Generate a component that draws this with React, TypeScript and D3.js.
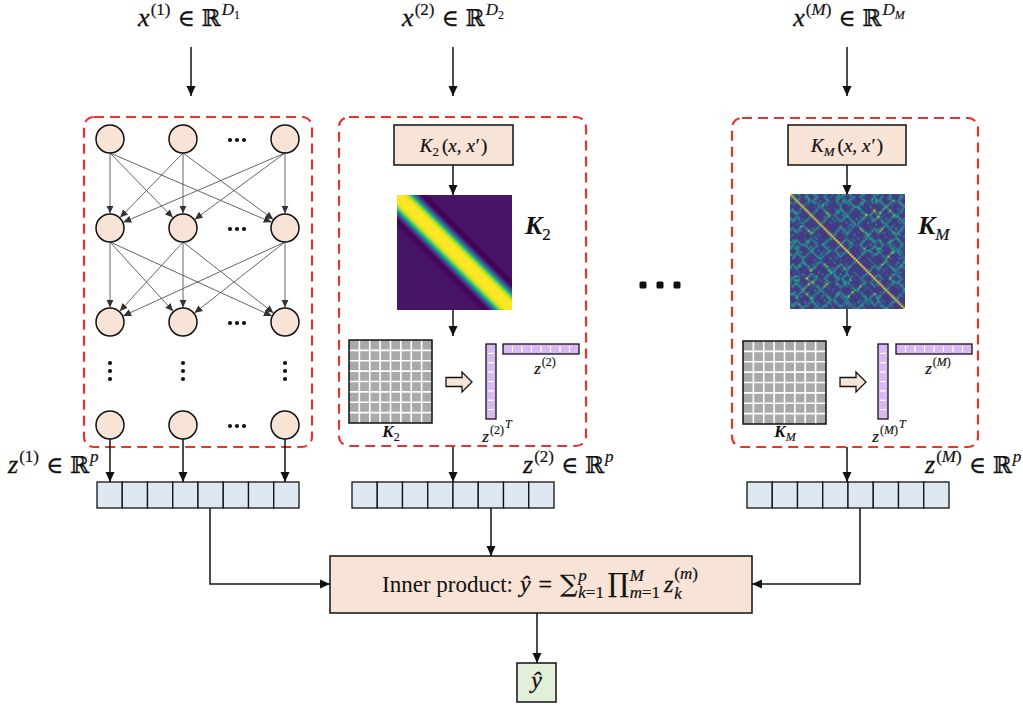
import React, { useEffect, useRef } from 'react';
import * as d3 from 'd3';

const W = 1023;
const H = 705;

// ---- content / values ----
const VIEW_IDS = ['1', '2', 'M'];
const P_CELLS = [1, 2, 3, 4, 5, 6, 7, 8];
const GRID_CELLS = [1, 2, 3, 4, 5, 6, 7, 8];
const BAR_SEGMENTS = [1, 2, 3, 4, 5, 6, 7, 8];
const NET_COLUMNS = ['first', 'second', 'last'];
const NET_LAYERS = ['l1', 'l2', 'l3', 'lOut'];
const K2_SHAPE = { width: 0.15, power: 4, dipDepth: 0.06, dipAt: 0.22, dipWidth: 0.05 };
const KM_LENGTHSCALES = [0.03, 0.04];
const KM_WEIGHTS = [0.55, 0.45];
const KM_INPUTS_A = [
  0.52, 0.58, 0.49, 0.44, 0.51, 0.63, 0.69, 0.61, 0.55, 0.47, 0.38, 0.42, 0.5, 0.57, 0.66,
  0.72, 0.64, 0.56, 0.48, 0.41, 0.35, 0.29, 0.36, 0.45, 0.53, 0.6, 0.54, 0.46, 0.39, 0.43,
  0.52, 0.62, 0.7, 0.76, 0.68, 0.59, 0.51, 0.44, 0.37, 0.31, 0.38, 0.47, 0.55, 0.49, 0.41,
  0.46, 0.57, 0.65, 0.71, 0.63, 0.53, 0.45, 0.4, 0.34, 0.42, 0.5, 0.58, 0.67,
];
const KM_INPUTS_B = [
  0.31, 0.07, 0.66, 0.92, 0.18, 0.54, 0.43, 0.79, 0.02, 0.61, 0.87, 0.25, 0.38, 0.71, 0.14,
  0.96, 0.49, 0.23, 0.58, 0.84, 0.11, 0.35, 0.74, 0.05, 0.63, 0.47, 0.89, 0.29, 0.16, 0.52,
  0.98, 0.68, 0.09, 0.41, 0.77, 0.21, 0.57, 0.33, 0.86, 0.13, 0.45, 0.72, 0.01, 0.94, 0.27,
  0.6, 0.19, 0.81, 0.39, 0.65, 0.04, 0.5, 0.91, 0.24, 0.76, 0.12, 0.55, 0.36,
];

const MATH = "'Liberation Serif', 'DejaVu Serif', serif";
const RED = '#e8352b';
const PEACH = '#f8e4d6';
const BLUE = '#dee8f3';
const GREEN = '#e2efd9';
const PURPLE = '#d9b9f4';
const INK = '#111';

type Piece = {
  t?: string;
  parts?: [string, boolean][];
  size: number;
  it?: boolean;
  b?: boolean;
  dy?: number;
  gap?: number;
  stack?: boolean;
  family?: string;
  plain?: boolean;
};

function drawMath(parent: any, pieces: Piece[], x: number, y: number, anchor: string) {
  const g = parent.append('g');
  let cursor = 0;
  let lastStart = 0;
  let lastEnd = 0;
  for (const p of pieces) {
    const start = p.stack ? lastStart : cursor + (p.gap || 0);
    const t = g
      .append('text')
      .attr('x', start)
      .attr('y', p.dy || 0)
      .attr('font-family', p.family || MATH)
      .attr('font-size', p.size)
      .attr('font-style', p.it ? 'italic' : 'normal')
      .attr('font-weight', p.b ? 'bold' : 'normal')
      .attr('fill', INK)
      .attr('stroke', p.plain || p.b ? null : INK)
      .attr('stroke-width', p.plain || p.b ? null : Math.min(0.3, p.size * 0.013));
    if (p.parts) {
      p.parts.forEach(([s, it]) => t.append('tspan').attr('font-style', it ? 'italic' : 'normal').text(s));
    } else {
      t.text(p.t || '');
    }
    const w = (t.node() as SVGTextElement).getComputedTextLength();
    const end = start + w;
    if (p.stack) {
      lastEnd = Math.max(lastEnd, end);
    } else {
      lastStart = start;
      lastEnd = end;
    }
    cursor = lastEnd;
  }
  const off = anchor === 'middle' ? cursor / 2 : anchor === 'end' ? cursor : 0;
  g.attr('transform', `translate(${x - off},${y})`);
}

function heatmapURL(n: number, f: (i: number, j: number) => string) {
  const c = document.createElement('canvas');
  c.width = n;
  c.height = n;
  const ctx = c.getContext('2d')!;
  const img = ctx.createImageData(n, n);
  for (let i = 0; i < n; i++) {
    for (let j = 0; j < n; j++) {
      const col = d3.rgb(f(i, j));
      const o = (i * n + j) * 4;
      img.data[o] = col.r;
      img.data[o + 1] = col.g;
      img.data[o + 2] = col.b;
      img.data[o + 3] = 255;
    }
  }
  ctx.putImageData(img, 0, 0);
  return c.toDataURL();
}

export default function App() {
  const ref = useRef<SVGSVGElement>(null);

  useEffect(() => {
    const svg = d3.select(ref.current);
    svg.selectAll('*').remove();

    const defs = svg.append('defs');
    defs
      .append('marker')
      .attr('id', 'arr')
      .attr('viewBox', '0 0 10 10')
      .attr('refX', 10)
      .attr('refY', 5)
      .attr('markerWidth', 10)
      .attr('markerHeight', 10)
      .attr('markerUnits', 'userSpaceOnUse')
      .attr('orient', 'auto')
      .append('path')
      .attr('d', 'M0,0.5 L10,5 L0,9.5 Z')
      .attr('fill', INK);
    defs
      .append('marker')
      .attr('id', 'arrS')
      .attr('viewBox', '0 0 10 10')
      .attr('refX', 10)
      .attr('refY', 5)
      .attr('markerWidth', 8)
      .attr('markerHeight', 8)
      .attr('markerUnits', 'userSpaceOnUse')
      .attr('orient', 'auto')
      .append('path')
      .attr('d', 'M0,0.5 L10,5 L0,9.5 Z')
      .attr('fill', '#333');

    const arrow = (x1: number, y1: number, x2: number, y2: number) =>
      svg
        .append('line')
        .attr('x1', x1)
        .attr('y1', y1)
        .attr('x2', x2)
        .attr('y2', y2)
        .attr('stroke', INK)
        .attr('stroke-width', 1.5)
        .attr('marker-end', 'url(#arr)');

    const supId = (id: string, size: number, dy: number): Piece[] =>
      id === 'M'
        ? [
            { t: '(', size, dy, gap: 1 },
            { t: 'M', size, it: true, dy },
            { t: ')', size, dy },
          ]
        : [{ t: `(${id})`, size, dy, gap: 1 }];

    // ---- top input labels and arrows ----
    const topCenters = [189, 453, 849];
    const arrowXs = [191, 453, 847];
    VIEW_IDS.forEach((id, i) => {
      drawMath(
        svg,
        [
          { t: 'x', size: 26, it: true },
          ...supId(id, 17, -11),
          { t: '∈', size: 23, gap: 7 },
          { t: 'ℝ', size: 23, gap: 7, family: "'DejaVu Serif', serif" },
          { t: 'D', size: 17, it: true, dy: -11, gap: 1 },
          { t: id, size: 12, it: id === 'M', dy: -7 },
        ],
        topCenters[i],
        26,
        'middle'
      );
      arrow(arrowXs[i], 47, arrowXs[i], 96);
    });

    // ---- dashed view boxes ----
    const boxes = [
      { x0: 84, y0: 117, x1: 312, y1: 447 },
      { x0: 339, y0: 117, x1: 586, y1: 446 },
      { x0: 732, y0: 118, x1: 978, y1: 447 },
    ];
    boxes.forEach((b) =>
      svg
        .append('rect')
        .attr('x', b.x0)
        .attr('y', b.y0)
        .attr('width', b.x1 - b.x0)
        .attr('height', b.y1 - b.y0)
        .attr('rx', 10)
        .attr('fill', 'none')
        .attr('stroke', RED)
        .attr('stroke-width', 2.2)
        .attr('stroke-dasharray', '10 6')
    );

    // ---- neural network (view 1) ----
    const colX = d3.scaleOrdinal<string, number>().domain(NET_COLUMNS).range([110, 183, 285]);
    const layerY = d3.scaleOrdinal<string, number>().domain(NET_LAYERS).range([139, 228, 322, 425]);
    const R = 14;
    const edgesG = svg.append('g');
    for (let l = 0; l < 2; l++) {
      const ys = layerY(NET_LAYERS[l]);
      const yt = layerY(NET_LAYERS[l + 1]);
      NET_COLUMNS.forEach((cs) => {
        NET_COLUMNS.forEach((ct) => {
          const sx = colX(cs);
          const sy = ys + R;
          const tx = colX(ct);
          const dx = tx - sx;
          const dyy = yt - sy;
          const len = Math.hypot(dx, dyy);
          edgesG
            .append('line')
            .attr('x1', sx)
            .attr('y1', sy)
            .attr('x2', tx - (dx / len) * (R + 0.5))
            .attr('y2', yt - (dyy / len) * (R + 0.5))
            .attr('stroke', '#555')
            .attr('stroke-width', 0.9)
            .attr('marker-end', 'url(#arrS)');
        });
      });
    }
    NET_LAYERS.forEach((l) => {
      NET_COLUMNS.forEach((c) => {
        svg
          .append('circle')
          .attr('cx', colX(c))
          .attr('cy', layerY(l))
          .attr('r', R)
          .attr('fill', '#f8e4d6')
          .attr('stroke', INK)
          .attr('stroke-width', 1.5);
      });
      [-7, 0, 7].forEach((o) =>
        svg.append('circle').attr('cx', 237 + o).attr('cy', layerY(l) + 1).attr('r', 2.1).attr('fill', INK)
      );
    });
    NET_COLUMNS.forEach((c) =>
      [-8, 0, 8].forEach((o) =>
        svg.append('circle').attr('cx', colX(c)).attr('cy', 371 + o).attr('r', 2.1).attr('fill', INK)
      )
    );
    NET_COLUMNS.forEach((c) => arrow(colX(c), layerY('lOut') + R, colX(c), 482));

    // ---- kernel views ----
    const k2Color = d3.scaleSequential(d3.interpolateViridis).domain([-0.06, 1]);
    const k2 = (d: number) =>
      Math.exp(-Math.pow(d / K2_SHAPE.width, K2_SHAPE.power)) -
      K2_SHAPE.dipDepth * Math.exp(-Math.pow((d - K2_SHAPE.dipAt) / K2_SHAPE.dipWidth, 2));
    const N2 = 115;
    const k2URL = heatmapURL(N2, (i, j) => k2Color(k2(Math.abs(i - j) / (N2 - 1))));
    const kmColor = d3.scaleSequential(d3.interpolateViridis).domain([-0.2, 1]);
    const rbf = (a: number, b: number, l: number) => Math.exp(-((a - b) * (a - b)) / (2 * l * l));
    const kmURL = heatmapURL(KM_INPUTS_A.length, (i, j) =>
      kmColor(
        KM_WEIGHTS[0] * rbf(KM_INPUTS_A[i], KM_INPUTS_A[j], KM_LENGTHSCALES[0]) +
          KM_WEIGHTS[1] * rbf(KM_INPUTS_B[i], KM_INPUTS_B[j], KM_LENGTHSCALES[1])
      )
    );

    const kViews = [
      { id: '2', cx: 453, kbox: [394, 513], heat: [397, 195], grid: [349, 340], barV: 486, barH: 503, lab: 525, url: k2URL },
      { id: 'M', cx: 847, kbox: [788, 906], heat: [790, 194], grid: [743, 341], barV: 878, barH: 896, lab: 918, url: kmURL },
    ];
    const sub = (id: string, size: number, dy: number): Piece => ({ t: id, size, it: id === 'M', dy } as Piece);

    kViews.forEach((v) => {
      svg
        .append('rect')
        .attr('x', v.kbox[0])
        .attr('y', 125)
        .attr('width', v.kbox[1] - v.kbox[0])
        .attr('height', 40)
        .attr('fill', PEACH)
        .attr('stroke', INK)
        .attr('stroke-width', 1.5);
      drawMath(
        svg,
        [
          { t: 'K', size: 19, it: true },
          sub(v.id, 13, 4),
          { t: '(', size: 19, gap: 3 },
          { t: 'x', size: 19, it: true },
          { t: ',', size: 19 },
          { t: 'x', size: 19, it: true, gap: 5 },
          { t: '′', size: 19, gap: 1 },
          { t: ')', size: 19, gap: 1 },
        ],
        (v.kbox[0] + v.kbox[1]) / 2,
        152,
        'middle'
      );
      arrow(v.cx, 165, v.cx, 195);

      svg
        .append('image')
        .attr('href', v.url)
        .attr('x', v.heat[0])
        .attr('y', v.heat[1])
        .attr('width', 115)
        .attr('height', 115)
        .attr('preserveAspectRatio', 'none');
      drawMath(svg, [{ t: 'K', size: 26, it: true, b: true }, sub(v.id, 17, 6)], v.lab, 234, 'start');
      arrow(v.cx, v.heat[1] + 115, v.cx, 336);

      const gx = d3.scaleBand<number>().domain(GRID_CELLS).range([v.grid[0], v.grid[0] + 83]);
      const gy = d3.scaleBand<number>().domain(GRID_CELLS).range([v.grid[1], v.grid[1] + 83]);
      svg
        .append('rect')
        .attr('x', v.grid[0])
        .attr('y', v.grid[1])
        .attr('width', 83)
        .attr('height', 83)
        .attr('fill', '#a9a9a9');
      GRID_CELLS.slice(1).forEach((c) => {
        svg
          .append('line')
          .attr('x1', gx(c)!)
          .attr('x2', gx(c)!)
          .attr('y1', v.grid[1])
          .attr('y2', v.grid[1] + 83)
          .attr('stroke', '#fff')
          .attr('stroke-width', 1.6);
        svg
          .append('line')
          .attr('y1', gy(c)!)
          .attr('y2', gy(c)!)
          .attr('x1', v.grid[0])
          .attr('x2', v.grid[0] + 83)
          .attr('stroke', '#fff')
          .attr('stroke-width', 1.6);
      });
      svg
        .append('rect')
        .attr('x', v.grid[0])
        .attr('y', v.grid[1])
        .attr('width', 83)
        .attr('height', 83)
        .attr('fill', 'none')
        .attr('stroke', INK)
        .attr('stroke-width', 1.5);
      drawMath(svg, [{ t: 'K', size: 17, it: true, b: true }, sub(v.id, 12, 4)], v.grid[0] + 42, 437, 'middle');

      const bx = v.grid[0] + 97;
      svg
        .append('path')
        .attr(
          'd',
          `M${bx},377.5 L${bx + 16},377.5 L${bx + 16},372 L${bx + 26},382 L${bx + 16},392 L${bx + 16},386.5 L${bx},386.5 Z`
        )
        .attr('fill', PEACH)
        .attr('stroke', INK)
        .attr('stroke-width', 1.3);

      const segV = d3.scaleBand<number>().domain(BAR_SEGMENTS).range([344, 419]);
      svg
        .append('rect')
        .attr('x', v.barV)
        .attr('y', 344)
        .attr('width', 10)
        .attr('height', 75)
        .attr('fill', PURPLE)
        .attr('stroke', INK)
        .attr('stroke-width', 1.3);
      BAR_SEGMENTS.slice(1).forEach((s) =>
        svg
          .append('line')
          .attr('x1', v.barV + 2)
          .attr('x2', v.barV + 8)
          .attr('y1', segV(s)!)
          .attr('y2', segV(s)!)
          .attr('stroke', '#fff')
          .attr('stroke-width', 1.2)
      );
      const segH = d3.scaleBand<number>().domain(BAR_SEGMENTS).range([v.barH, v.barH + 76]);
      svg
        .append('rect')
        .attr('x', v.barH)
        .attr('y', 344)
        .attr('width', 76)
        .attr('height', 10)
        .attr('fill', PURPLE)
        .attr('stroke', INK)
        .attr('stroke-width', 1.3);
      BAR_SEGMENTS.slice(1).forEach((s) =>
        svg
          .append('line')
          .attr('y1', 346)
          .attr('y2', 352)
          .attr('x1', segH(s)!)
          .attr('x2', segH(s)!)
          .attr('stroke', '#fff')
          .attr('stroke-width', 1.2)
      );
      drawMath(svg, [{ t: 'z', size: 17, it: true }, ...supId(v.id, 12, -8)], v.barH + 42, 374, 'middle');
      drawMath(
        svg,
        [{ t: 'z', size: 17, it: true }, ...supId(v.id, 12, -8), { t: 'T', size: 12, it: true, dy: -14, gap: 1 }],
        v.barV + 11,
        442,
        'middle'
      );
      arrow(v.cx, 447, v.cx, 482);
    });

    // big ellipsis between views
    [643, 660, 677].forEach((x) =>
      svg.append('rect').attr('x', x - 3.5).attr('y', 281.5).attr('width', 7).attr('height', 7).attr('rx', 1.5).attr('fill', INK)
    );

    // ---- latent vectors ----
    const vecStarts = [97, 352, 747];
    vecStarts.forEach((x0) => {
      const band = d3.scaleBand<number>().domain(P_CELLS).range([x0, x0 + 202]);
      P_CELLS.forEach((c) =>
        svg
          .append('rect')
          .attr('x', band(c)!)
          .attr('y', 482)
          .attr('width', band.bandwidth())
          .attr('height', 26)
          .attr('fill', BLUE)
          .attr('stroke', INK)
          .attr('stroke-width', 1.3)
      );
    });
    const zLab = (id: string, x: number) =>
      drawMath(
        svg,
        [
          { t: 'z', size: 26, it: true },
          ...supId(id, 17, -11),
          { t: '∈', size: 23, gap: 7 },
          { t: 'ℝ', size: 23, gap: 7, family: "'DejaVu Serif', serif" },
          { t: 'p', size: 17, it: true, dy: -11, gap: 1 },
        ],
        x,
        473,
        'start'
      );
    zLab('1', 8);
    zLab('2', 523);
    zLab('M', 925);

    // ---- connections to inner product ----
    const path = (d: string) =>
      svg
        .append('path')
        .attr('d', d)
        .attr('fill', 'none')
        .attr('stroke', INK)
        .attr('stroke-width', 1.5)
        .attr('marker-end', 'url(#arr)');
    path('M210,508 L210,584 L330,584');
    path('M491,508 L491,556');
    path('M860,508 L860,584 L752,584');

    svg
      .append('rect')
      .attr('x', 330)
      .attr('y', 556)
      .attr('width', 422)
      .attr('height', 57)
      .attr('fill', PEACH)
      .attr('stroke', INK)
      .attr('stroke-width', 1.5);
    drawMath(
      svg,
      [
        { t: 'Inner product:', size: 23, plain: true },
        { t: 'ŷ', size: 24, it: true, gap: 7 },
        { t: '=', size: 24, gap: 8 },
        { t: '∑', size: 24, gap: 8, family: "'DejaVu Serif', serif" },
        { t: 'p', size: 17, it: true, dy: -11, gap: 1 },
        { parts: [['k', true], ['=1', false]], size: 17, dy: 6, stack: true },
        { t: '∏', size: 26, gap: 4, family: "'DejaVu Serif', serif" },
        { t: 'M', size: 17, it: true, dy: -11, gap: 1 },
        { parts: [['m', true], ['=1', false]], size: 17, dy: 6, stack: true },
        { t: 'z', size: 24, it: true, gap: 4 },
        { parts: [['(', false], ['m', true], [')', false]], size: 17, dy: -13, gap: 1 },
        { t: 'k', size: 17, it: true, dy: 7, stack: true },
      ],
      540,
      592,
      'middle'
    );
    path('M537,613 L537,663');
    svg
      .append('rect')
      .attr('x', 517)
      .attr('y', 663)
      .attr('width', 39)
      .attr('height', 39)
      .attr('fill', GREEN)
      .attr('stroke', INK)
      .attr('stroke-width', 1.5);
    drawMath(svg, [{ t: 'ŷ', size: 24, it: true }], 536.5, 688, 'middle');
  }, []);

  return (
    <svg
      ref={ref}
      width={W}
      height={H}
      viewBox={`0 0 ${W} ${H}`}
      style={{ position: 'absolute', left: 0, top: 0, background: '#fff' }}
    />
  );
}
